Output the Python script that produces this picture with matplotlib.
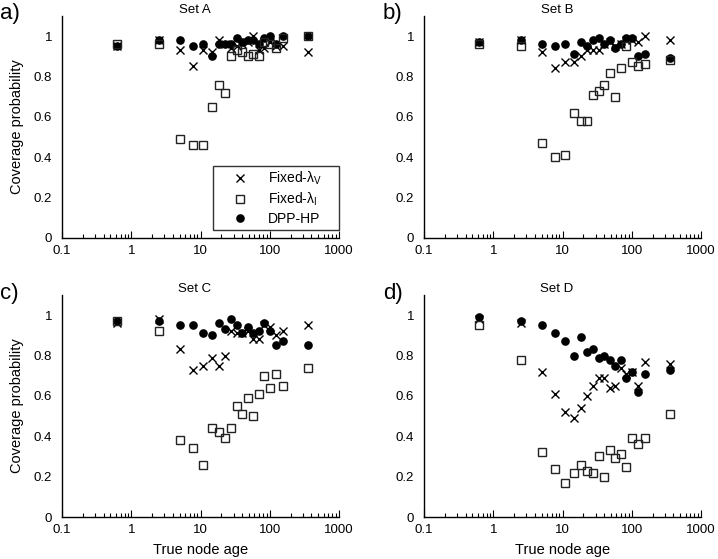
import matplotlib
matplotlib.use("Agg")
import matplotlib.pyplot as plt
from matplotlib.ticker import FixedLocator, FixedFormatter, LogLocator, NullFormatter

plt.rcParams['font.family'] = ['Liberation Sans', 'DejaVu Sans']
plt.rcParams['mathtext.fontset'] = 'custom'
plt.rcParams['mathtext.rm'] = 'Liberation Sans'
plt.rcParams['mathtext.it'] = 'Liberation Sans:italic'

ages = [0.63, 2.5, 5, 7.8, 11, 14.5, 18.5, 22.5, 27.5, 33.5, 40, 48, 57, 69, 82, 100, 122, 157, 356]

setA_fixed_v = [0.95, 0.98, 0.93, 0.85, 0.93, 0.92, 0.98, 0.96, 0.94, 0.95, 0.96, 0.97, 1.00, 0.93, 0.94, 0.97, 0.95, 0.95, 0.92]
setA_fixed_i = [0.96, 0.96, 0.49, 0.46, 0.46, 0.65, 0.76, 0.72, 0.90, 0.93, 0.92, 0.90, 0.91, 0.90, 0.97, 0.96, 0.94, 0.99, 1.00]
setA_dpp = [0.95, 0.98, 0.98, 0.95, 0.96, 0.90, 0.96, 0.96, 0.96, 0.99, 0.97, 0.98, 0.98, 0.96, 0.99, 1.00, 0.96, 1.00, 1.00]

setB_fixed_v = [0.97, 0.98, 0.92, 0.84, 0.87, 0.87, 0.90, 0.93, 0.93, 0.93, 0.96, 0.97, 0.95, 0.96, 0.98, 0.98, 0.97, 1.00, 0.98]
setB_fixed_i = [0.96, 0.95, 0.47, 0.40, 0.41, 0.62, 0.58, 0.58, 0.71, 0.73, 0.76, 0.82, 0.70, 0.84, 0.95, 0.87, 0.85, 0.86, 0.88]
setB_dpp = [0.97, 0.98, 0.96, 0.95, 0.96, 0.91, 0.97, 0.95, 0.98, 0.99, 0.96, 0.98, 0.94, 0.96, 0.99, 0.99, 0.90, 0.91, 0.89]

setC_fixed_v = [0.96, 0.98, 0.83, 0.73, 0.75, 0.79, 0.75, 0.80, 0.92, 0.91, 0.91, 0.92, 0.88, 0.88, 0.95, 0.94, 0.90, 0.92, 0.95]
setC_fixed_i = [0.97, 0.92, 0.38, 0.34, 0.26, 0.44, 0.42, 0.39, 0.44, 0.55, 0.51, 0.59, 0.50, 0.61, 0.70, 0.64, 0.71, 0.65, 0.74]
setC_dpp = [0.97, 0.97, 0.95, 0.95, 0.91, 0.90, 0.96, 0.93, 0.98, 0.95, 0.91, 0.94, 0.91, 0.92, 0.96, 0.92, 0.85, 0.87, 0.85]

setD_fixed_v = [0.98, 0.96, 0.72, 0.61, 0.52, 0.49, 0.54, 0.60, 0.65, 0.69, 0.69, 0.64, 0.65, 0.74, 0.71, 0.72, 0.65, 0.77, 0.76]
setD_fixed_i = [0.95, 0.78, 0.32, 0.24, 0.17, 0.22, 0.26, 0.23, 0.22, 0.30, 0.20, 0.33, 0.29, 0.31, 0.25, 0.39, 0.36, 0.39, 0.51]
setD_dpp = [0.99, 0.97, 0.95, 0.91, 0.87, 0.80, 0.89, 0.82, 0.83, 0.79, 0.80, 0.78, 0.75, 0.78, 0.69, 0.72, 0.62, 0.71, 0.73]

panels = [
    ("a)", "Set A", setA_fixed_v, setA_fixed_i, setA_dpp),
    ("b)", "Set B", setB_fixed_v, setB_fixed_i, setB_dpp),
    ("c)", "Set C", setC_fixed_v, setC_fixed_i, setC_dpp),
    ("d)", "Set D", setD_fixed_v, setD_fixed_i, setD_dpp),
]
series_labels = ["Fixed-λ$_\\mathrm{V}$", "Fixed-λ$_\\mathrm{I}$", "DPP-HP"]
y_ticks = [0, 0.2, 0.4, 0.6, 0.8, 1.0]
y_ticklabels = ["0", "0.2", "0.4", "0.6", "0.8", "1"]
x_ticks = [0.1, 1, 10, 100, 1000]
x_ticklabels = ["0.1", "1", "10", "100", "1000"]

fig = plt.figure(figsize=(7.18, 5.59), dpi=100)
W, H = 718, 559
positions = [
    (62, 238), (424, 238),
    (62, 517), (424, 517),
]
aw, ah = 277, 222

for i, ((lab, title, fv, fi, dpp), (x0, yb)) in enumerate(zip(panels, positions)):
    ax = fig.add_axes([x0 / W, (H - yb) / H, aw / W, ah / H])
    ax.plot(ages, dpp, linestyle='none', marker='o', ms=5.2, mfc='black', mec='black', label=series_labels[2], zorder=3)
    ax.plot(ages, fv, linestyle='none', marker='x', ms=5.8, mew=1.0, color='black', label=series_labels[0], zorder=4)
    ax.plot(ages, fi, linestyle='none', marker='s', ms=5.8, mfc='none', mec='#222222', mew=1.0, label=series_labels[1], zorder=5)
    ax.set_xscale('log')
    ax.set_xlim(0.1, 1000)
    ax.set_ylim(0, 1.1)
    ax.spines['top'].set_visible(False)
    ax.spines['right'].set_visible(False)
    ax.spines['left'].set_linewidth(1.0)
    ax.spines['bottom'].set_linewidth(1.0)
    ax.xaxis.set_major_locator(FixedLocator(x_ticks))
    ax.xaxis.set_major_formatter(FixedFormatter(x_ticklabels))
    ax.xaxis.set_minor_locator(LogLocator(base=10, subs=range(2, 10)))
    ax.xaxis.set_minor_formatter(NullFormatter())
    ax.tick_params(axis='x', which='major', direction='in', length=5, width=0.8, labelsize=9.5, pad=5)
    ax.tick_params(axis='x', which='minor', direction='in', length=3, width=0.8)
    ax.yaxis.set_major_locator(FixedLocator(y_ticks))
    ax.yaxis.set_major_formatter(FixedFormatter(y_ticklabels))
    ax.tick_params(axis='y', which='both', length=0, labelsize=9.5, pad=7)
    ax.set_title(title, fontsize=9.5, pad=1, x=0.48)
    if i in (0, 2):
        ax.set_ylabel("Coverage probability", fontsize=10.5, labelpad=7)
    if i in (2, 3):
        ax.set_xlabel("True node age", fontsize=10.5, labelpad=5)
    lx = 0 if i in (0, 2) else 383
    ly = 14 if i < 2 else 293
    fig.text(lx / W, 1 - ly / H, lab, fontsize=16, va='center', ha='left')
    if i == 0:
        h, l = ax.get_legend_handles_labels()
        order = [1, 2, 0]
        leg = ax.legend([h[k] for k in order], [l[k] for k in order],
                        loc='lower left', bbox_to_anchor=(0.545, 0.036, 0.455, 0.26),
                        mode='expand', fontsize=10, frameon=True, fancybox=False,
                        edgecolor='black', handlelength=3.3, handletextpad=0.36,
                        borderpad=0.3, labelspacing=0.25, borderaxespad=0)
        leg.get_frame().set_linewidth(1.0)

fig.savefig("out.png", dpi=100)
